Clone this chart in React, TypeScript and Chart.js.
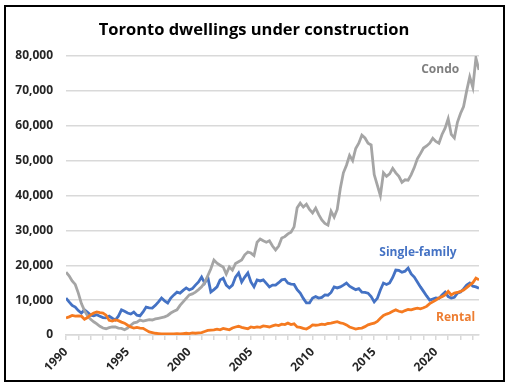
import React, { useEffect, useRef } from 'react';
import { Chart, registerables } from 'chart.js';

Chart.register(...registerables);

const TITLE = 'Toronto dwellings under construction';
const START_YEAR = 1990;
const END_YEAR = 2023.5;

// Quarterly values, 1990 Q1 .. 2023 Q3
const condo = [
  18000, 17000, 15500, 14500,
  12000, 9000, 7000, 5500,
  4500, 3800, 3200, 2500,
  2000, 1800, 2100, 2300,
  2300, 2000, 1900, 1500,
  2000, 2800, 3500, 3700,
  4300, 4000, 4200, 4400,
  4300, 4600, 4800, 5000,
  5200, 5600, 6300, 6800,
  7200, 8500, 9500, 10500,
  11500, 11800, 12300, 13000,
  13800, 15000, 17000, 19000,
  21500, 20600, 20000, 19500,
  17500, 19500, 18600, 20500,
  21000, 21500, 23000, 23800,
  23500, 22800, 26600, 27500,
  27000, 26600, 27000, 25500,
  24400, 25500, 27800, 28200,
  29000, 29500, 31000, 36500,
  37800, 36700, 37500, 36000,
  35000, 36400, 34500, 33000,
  32000, 31500, 35500, 33800,
  36000, 42000, 46500, 48700,
  51500, 50000, 53500, 55000,
  57300, 56500, 55000, 54500,
  46000, 43000, 40000, 46500,
  45500, 46200, 47800, 46500,
  45500, 43800, 44500, 44400,
  46000, 48000, 50500, 52000,
  53600, 54200, 55000, 56400,
  55500, 55000, 57500, 59300,
  62000, 57500, 56500, 61000,
  63500, 65500, 70000, 74000,
  71000, 79400, 76000,
];

const singleFamily = [
  10600, 9500, 8500, 8000,
  7000, 6300, 7200, 6500,
  5700, 5500, 5800, 5400,
  5000, 4900, 5400, 4800,
  4300, 5400, 7200, 6800,
  6300, 6000, 6600, 5700,
  5500, 6600, 8000, 7800,
  7700, 8500, 9500, 10600,
  9800, 9200, 10600, 11500,
  12300, 12000, 12800, 13500,
  12900, 13300, 14300, 15200,
  16600, 14900, 16600, 12300,
  13000, 13800, 15800, 16300,
  14300, 13500, 14300, 16600,
  17800, 15200, 16600, 17800,
  15200, 13800, 15800, 15500,
  15800, 14800, 13800, 14300,
  14300, 15000, 15800, 16000,
  14900, 14600, 14500, 13000,
  12000, 10500, 9200, 9200,
  10600, 11000, 10600, 10800,
  11500, 11400, 12200, 13800,
  13500, 13800, 14300, 14900,
  14000, 13500, 13000, 13300,
  12300, 12200, 12000, 11000,
  9500, 10500, 12900, 14900,
  14500, 14900, 16500, 18600,
  18500, 18000, 18300, 19200,
  17500, 16600, 15200, 13800,
  12500, 11200, 10000, 10300,
  10600, 10500, 11500, 12300,
  11000, 10600, 10800, 12000,
  12300, 13200, 14300, 14900,
  14000, 13800, 13400,
];

const rental = [
  4900, 5200, 5600, 5400,
  5500, 5400, 4500, 5000,
  5800, 6300, 6600, 6400,
  6300, 5700, 4200, 4000,
  4300, 4100, 3700, 3400,
  2800, 2300, 2000, 2200,
  2000, 1900, 1400, 900,
  700, 500, 400, 300,
  300, 300, 300, 300,
  400, 300, 400, 500,
  400, 600, 500, 600,
  700, 1000, 1300, 1400,
  1500, 1700, 1500, 1900,
  1700, 1500, 2000, 2300,
  2500, 2200, 2000, 1800,
  2300, 2100, 2300, 2200,
  2600, 2500, 2300, 2600,
  2900, 2700, 3100, 3000,
  3400, 3000, 3200, 2300,
  2200, 1900, 1700, 2200,
  2900, 2800, 2900, 3100,
  3000, 3300, 3400, 3600,
  3800, 3500, 3300, 2900,
  2300, 2000, 1700, 1900,
  2000, 2400, 2900, 3200,
  3400, 3900, 4800, 5600,
  6000, 6300, 6800, 7200,
  6800, 6600, 7000, 7300,
  7200, 7500, 7700, 7500,
  7800, 8200, 9000, 9500,
  10000, 10600, 11000, 11500,
  12500, 11500, 12000, 12200,
  12500, 12900, 13600, 14300,
  15000, 16300, 15800,
];

const yTickValues = [0, 10000, 20000, 30000, 40000, 50000, 60000, 70000, 80000];
const xLabelYears = [1990, 1995, 2000, 2005, 2010, 2015, 2020];

// Series annotations: [text, year, value, color]
const annotations: [string, number, number, string][] = [
  ['Condo', 2020.35, 76200, '#7F7F7F'],
  ['Single-family', 2018.55, 23500, '#4472C4'],
  ['Rental', 2021.6, 5100, '#ED7D31'],
];

const quarterYears = condo.map((_, i) => START_YEAR + i / 4);
const toPoints = (arr: number[]) => arr.map((v, i) => ({ x: quarterYears[i], y: v }));

const FONT = '"Open Sans", "Liberation Sans", sans-serif';

const overlayPlugin = {
  id: 'overlay',
  afterDraw(chart: any) {
    const { ctx, scales } = chart;
    ctx.save();
    ctx.fillStyle = '#000000';
    ctx.font = `bold 16.5px ${FONT}`;
    ctx.textAlign = 'center';
    ctx.textBaseline = 'alphabetic';
    ctx.fillText(TITLE, 254, 35);
    ctx.font = `bold 12px ${FONT}`;
    ctx.textBaseline = 'middle';
    for (const [text, yr, val, color] of annotations) {
      ctx.fillStyle = color;
      ctx.fillText(text, scales.x.getPixelForValue(yr), scales.y.getPixelForValue(val));
    }
    ctx.restore();
  },
};

export default function App() {
  const ref = useRef<HTMLCanvasElement | null>(null);

  useEffect(() => {
    if (!ref.current) return;
    Chart.defaults.font.family = FONT;
    const chart = new Chart(ref.current, {
      type: 'line',
      data: {
        datasets: [
          {
            label: 'Rental',
            data: toPoints(rental),
            borderColor: '#F57A20',
            borderWidth: 2.8,
            pointRadius: 0,
            tension: 0,
            order: 1,
          },
          {
            label: 'Condo',
            data: toPoints(condo),
            borderColor: '#A5A5A5',
            borderWidth: 2.8,
            pointRadius: 0,
            tension: 0,
            order: 2,
          },
          {
            label: 'Single-family',
            data: toPoints(singleFamily),
            borderColor: '#4472C4',
            borderWidth: 2.8,
            pointRadius: 0,
            tension: 0,
            order: 3,
          },
        ],
      },
      options: {
        animation: false,
        responsive: false,
        maintainAspectRatio: false,
        layout: { padding: { left: 0, right: 33, top: 56, bottom: 0 } },
        plugins: {
          legend: { display: false },
          title: { display: false },
          tooltip: { enabled: false },
        },
        scales: {
          x: {
            type: 'linear',
            min: START_YEAR,
            max: END_YEAR,
            afterFit: (s: any) => { s.height = 53; },
            afterBuildTicks: (s: any) => {
              const t = [];
              for (let y = START_YEAR; y <= END_YEAR; y++) t.push({ value: y });
              s.ticks = t;
            },
            ticks: {
              autoSkip: false,
              includeBounds: false,
              stepSize: 1,
              maxRotation: 45,
              minRotation: 45,
              padding: 5,
              color: '#262626',
              font: { size: 12, weight: 'bold' },
              callback: (v: any) => (xLabelYears.includes(Number(v)) ? String(v) : ''),
            },
            grid: {
              drawOnChartArea: false,
              drawTicks: true,
              tickLength: 5,
              color: '#D9D9D9',
              lineWidth: 1.5,
            },
            border: { color: '#D9D9D9', width: 1.5 },
          },
          y: {
            min: 0,
            max: 80000,
            afterFit: (s: any) => { s.width = 66; },
            afterBuildTicks: (s: any) => { s.ticks = yTickValues.map((v) => ({ value: v })); },
            ticks: {
              padding: 13,
              color: '#262626',
              font: { size: 12, weight: 'bold' },
              callback: (v: any) => Number(v).toLocaleString('en-US'),
            },
            grid: { color: '#D9D9D9', lineWidth: 1.5, drawTicks: false },
            border: { display: false },
          },
        },
      },
      plugins: [overlayPlugin],
    });
    return () => chart.destroy();
  }, []);

  return (
    <div style={{ position: 'absolute', left: 0, top: 0, width: 512, height: 388, background: '#ffffff' }}>
      <canvas ref={ref} width={512} height={388} style={{ position: 'absolute', left: 0, top: 0, width: 512, height: 388 }} />
      <div
        style={{
          position: 'absolute',
          left: 4,
          top: 5,
          width: 497,
          height: 373,
          border: '2px solid #000000',
          pointerEvents: 'none',
        }}
      />
    </div>
  );
}
